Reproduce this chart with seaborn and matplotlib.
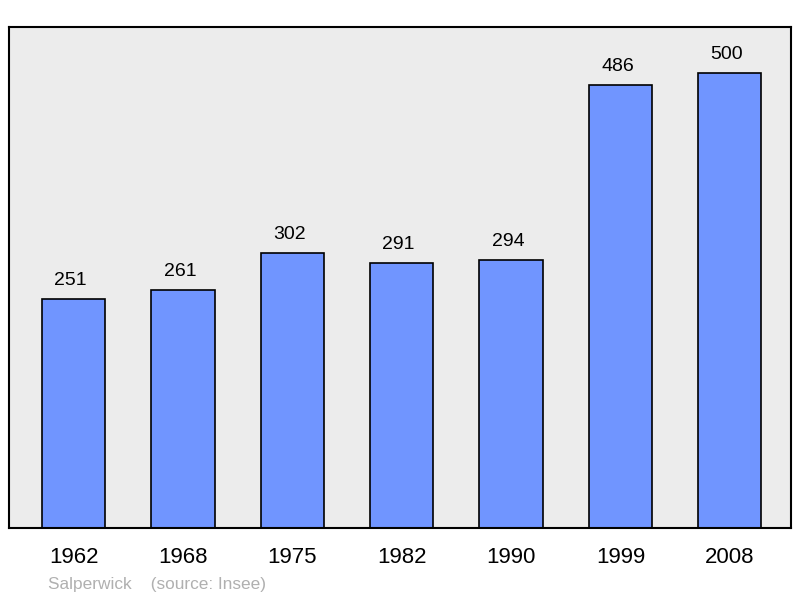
import matplotlib
matplotlib.use("Agg")
import matplotlib.pyplot as plt
import seaborn as sns
import pandas as pd
from matplotlib.transforms import offset_copy

years = ["1962", "1968", "1975", "1982", "1990", "1999", "2008"]
population = [251, 261, 302, 291, 294, 486, 500]

sns.set_style("white")
plt.rcParams['font.family'] = ['Liberation Sans', 'DejaVu Sans']

df = pd.DataFrame({"year": years, "pop": population})
fig = plt.figure(figsize=(8, 5.98), dpi=100)
ax = fig.add_axes([9/800, 70/598, 782/800, 501/598])
ax.set_facecolor("#ececec")
sns.barplot(data=df, x="year", y="pop", color="#7095ff", saturation=1,
            width=0.58, edgecolor="black", linewidth=1.2, ax=ax)
tr = offset_copy(ax.transData, fig=fig, x=-3, y=10, units="dots")
for i, v in enumerate(population):
    ax.text(i, v, str(v), ha="center", va="bottom", fontsize=14,
            color="black", transform=tr)
ax.set_xlim(-0.59, 6.56)
ax.set_ylim(0, 550)
ax.set_yticks([])
ax.set_xlabel("")
ax.set_ylabel("")
ax.tick_params(axis="x", labelsize=16, length=0, pad=14, labelcolor="black")
for s in ax.spines.values():
    s.set_color("black")
    s.set_linewidth(1.5)
fig.text(48/800, 1 - 584/598, "Salperwick    (source: Insee)", color="#b0b0b0",
         fontsize=12.4, va="center", ha="left")
fig.savefig("out.png", dpi=100)
